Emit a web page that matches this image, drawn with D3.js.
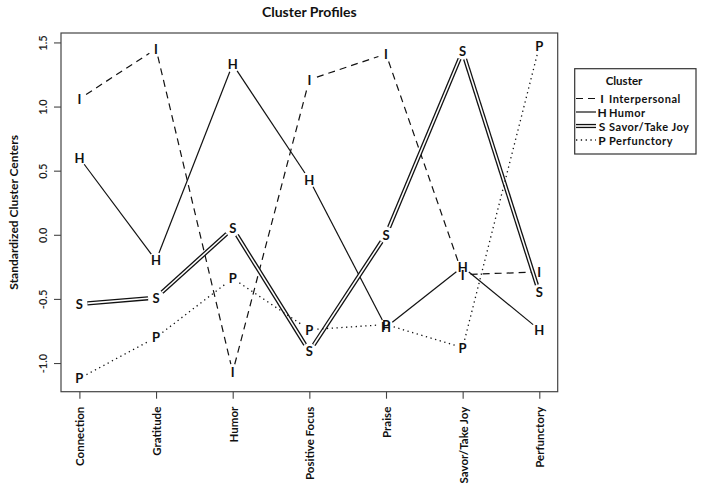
<!DOCTYPE html>
<html>
<head>
<meta charset="utf-8">
<script src="https://cdn.jsdelivr.net/npm/d3@7"></script>
<style>
  html, body { margin: 0; padding: 0; background: #fff; }
  svg { display: block; }
  text { font-family: Lato, "Open Sans", sans-serif; }
</style>
</head>
<body>
<svg id="chart" width="704" height="492"></svg>
<script>
const categories = ["Connection", "Gratitude", "Humor", "Positive Focus", "Praise", "Savor/Take Joy", "Perfunctory"];
const interpersonal = [1.06, 1.45, -1.07, 1.21, 1.41, -0.31, -0.29];
const humor        = [0.60, -0.20, 1.33, 0.43, -0.72, -0.25, -0.74];
const savor        = [-0.54, -0.49, 0.05, -0.91, 0.00, 1.43, -0.45];
const perfunctory  = [-1.12, -0.80, -0.34, -0.74, -0.70, -0.88, 1.47];
const seriesNames  = ["Interpersonal", "Humor", "Savor/Take Joy", "Perfunctory"];
const seriesLetters = ["I", "H", "S", "P"];
const yTicks = [-1.0, -0.5, 0.0, 0.5, 1.0, 1.5];
const titleText = "Cluster Profiles";
const yTitle = "Standardized Cluster Centers";
const legendTitle = "Cluster";

const series = [
  { name: seriesNames[0], letter: seriesLetters[0], values: interpersonal, style: "dash" },
  { name: seriesNames[1], letter: seriesLetters[1], values: humor, style: "solid" },
  { name: seriesNames[2], letter: seriesLetters[2], values: savor, style: "double" },
  { name: seriesNames[3], letter: seriesLetters[3], values: perfunctory, style: "dot" }
];

const svg = d3.select("#chart");
const plot = { left: 61, right: 557.7, top: 33, bottom: 391.7 };

const n = categories.length;
const xPad = (n - 1) * 0.04;
const x = d3.scaleLinear().domain([0 - xPad, n - 1 + xPad]).range([plot.left, plot.right]);
const all = series.flatMap(s => s.values);
const yMin = d3.min(all), yMax = d3.max(all);
const yPad = (yMax - yMin) * 0.04;
const y = d3.scaleLinear().domain([yMin - yPad, yMax + yPad]).range([plot.bottom, plot.top]);

// frame
svg.append("rect")
  .attr("x", plot.left).attr("y", plot.top)
  .attr("width", plot.right - plot.left).attr("height", plot.bottom - plot.top)
  .attr("fill", "none").attr("stroke", "#444").attr("stroke-width", 1.2);

// y axis
const yAxis = d3.axisLeft(y).tickValues(yTicks).tickSize(7).tickPadding(6)
  .tickFormat(d => d3.format(".1f")(d).replace("\u2212", "-"));
const gy = svg.append("g").attr("transform", `translate(${plot.left},0)`).call(yAxis);
gy.select(".domain").remove();
gy.selectAll(".tick line").attr("stroke", "#444").attr("stroke-width", 1.1);
gy.selectAll(".tick text")
  .attr("font-size", 11).attr("font-weight", 600).attr("fill", "#222")
  .attr("text-anchor", "middle").attr("dy", null)
  .attr("x", null)
  .attr("transform", "translate(-19,0) rotate(-90)")
  .attr("dominant-baseline", "central");

// x axis
const xAxis = d3.axisBottom(x).tickValues(d3.range(n)).tickSize(7).tickPadding(6)
  .tickFormat(i => categories[i]);
const gx = svg.append("g").attr("transform", `translate(0,${plot.bottom})`).call(xAxis);
gx.select(".domain").remove();
gx.selectAll(".tick line").attr("stroke", "#444").attr("stroke-width", 1.1);
gx.selectAll(".tick text")
  .attr("font-size", 11.5).attr("font-weight", "bold").attr("fill", "#111")
  .attr("text-anchor", "end").attr("dy", null).attr("y", null)
  .attr("transform", "translate(0,15) rotate(-90)")
  .attr("dominant-baseline", "central");

// title
svg.append("text").attr("x", (plot.left + plot.right) / 2).attr("y", 17)
  .attr("text-anchor", "middle").attr("font-size", 14).attr("font-weight", "bold")
  .attr("fill", "#111").text(titleText);

// y title
svg.append("text")
  .attr("transform", `translate(13,${(plot.top + plot.bottom) / 2}) rotate(-90)`)
  .attr("text-anchor", "middle").attr("dominant-baseline", "central")
  .attr("font-size", 12).attr("font-weight", "bold").attr("fill", "#111").text(yTitle);

function styleLine(sel, style) {
  sel.attr("fill", "none").attr("stroke", "#111");
  if (style === "dash") sel.attr("stroke-width", 1.2).attr("stroke-dasharray", "7,5");
  else if (style === "dot") sel.attr("stroke-width", 1.3).attr("stroke-dasharray", "1.3,3.5");
  else if (style === "solid") sel.attr("stroke-width", 1.2);
  else if (style === "double") sel.attr("stroke-width", 4.2);
}

const gap = 8;
const gLines = svg.append("g");
series.forEach(s => {
  const pts = s.values.map((v, i) => [x(i), y(v)]);
  for (let i = 0; i < pts.length - 1; i++) {
    const [x1, y1] = pts[i], [x2, y2] = pts[i + 1];
    const dx = x2 - x1, dy = y2 - y1, len = Math.hypot(dx, dy);
    if (len <= 2 * gap) continue;
    const ux = dx / len, uy = dy / len;
    const seg = [x1 + ux * gap, y1 + uy * gap, x2 - ux * gap, y2 - uy * gap];
    const l = gLines.append("line")
      .attr("x1", seg[0]).attr("y1", seg[1]).attr("x2", seg[2]).attr("y2", seg[3]);
    styleLine(l, s.style);
    if (s.style === "double") {
      gLines.append("line")
        .attr("x1", seg[0]).attr("y1", seg[1]).attr("x2", seg[2]).attr("y2", seg[3])
        .attr("stroke", "#fff").attr("stroke-width", 1.6);
    }
  }
});

// letters
const gLetters = svg.append("g");
series.forEach(s => {
  gLetters.selectAll(null).data(s.values).enter().append("text")
    .attr("x", (d, i) => x(i)).attr("y", d => y(d))
    .attr("text-anchor", "middle").attr("dominant-baseline", "central")
    .attr("font-size", 13).attr("font-weight", "bold").attr("fill", "#111")
    .text(s.letter);
});

// legend
const lg = svg.append("g");
lg.append("rect").attr("x", 574.7).attr("y", 68.7).attr("width", 121.3).attr("height", 85.3)
  .attr("fill", "#fff").attr("stroke", "#333").attr("stroke-width", 1.2);
lg.append("text").attr("x", 624).attr("y", 80).attr("text-anchor", "middle")
  .attr("dominant-baseline", "central").attr("font-size", 11.5).attr("font-weight", "bold")
  .attr("fill", "#111").text(legendTitle);
const rowY = [98.5, 112, 126, 140];
series.forEach((s, i) => {
  const yy = rowY[i];
  const l = lg.append("line").attr("x1", 576).attr("x2", 596).attr("y1", yy).attr("y2", yy);
  styleLine(l, s.style);
  if (s.style === "double") {
    lg.append("line").attr("x1", 576).attr("x2", 596).attr("y1", yy).attr("y2", yy)
      .attr("stroke", "#fff").attr("stroke-width", 1.6);
  }
  lg.append("text").attr("x", 602).attr("y", yy).attr("text-anchor", "middle")
    .attr("dominant-baseline", "central").attr("font-size", 12).attr("font-weight", "bold")
    .attr("fill", "#111").text(s.letter);
  lg.append("text").attr("x", 609).attr("y", yy).attr("dominant-baseline", "central")
    .attr("font-size", 11).attr("font-weight", "bold").attr("letter-spacing", 0.5)
    .attr("fill", "#111").text(s.name);
});
</script>
</body>
</html>
